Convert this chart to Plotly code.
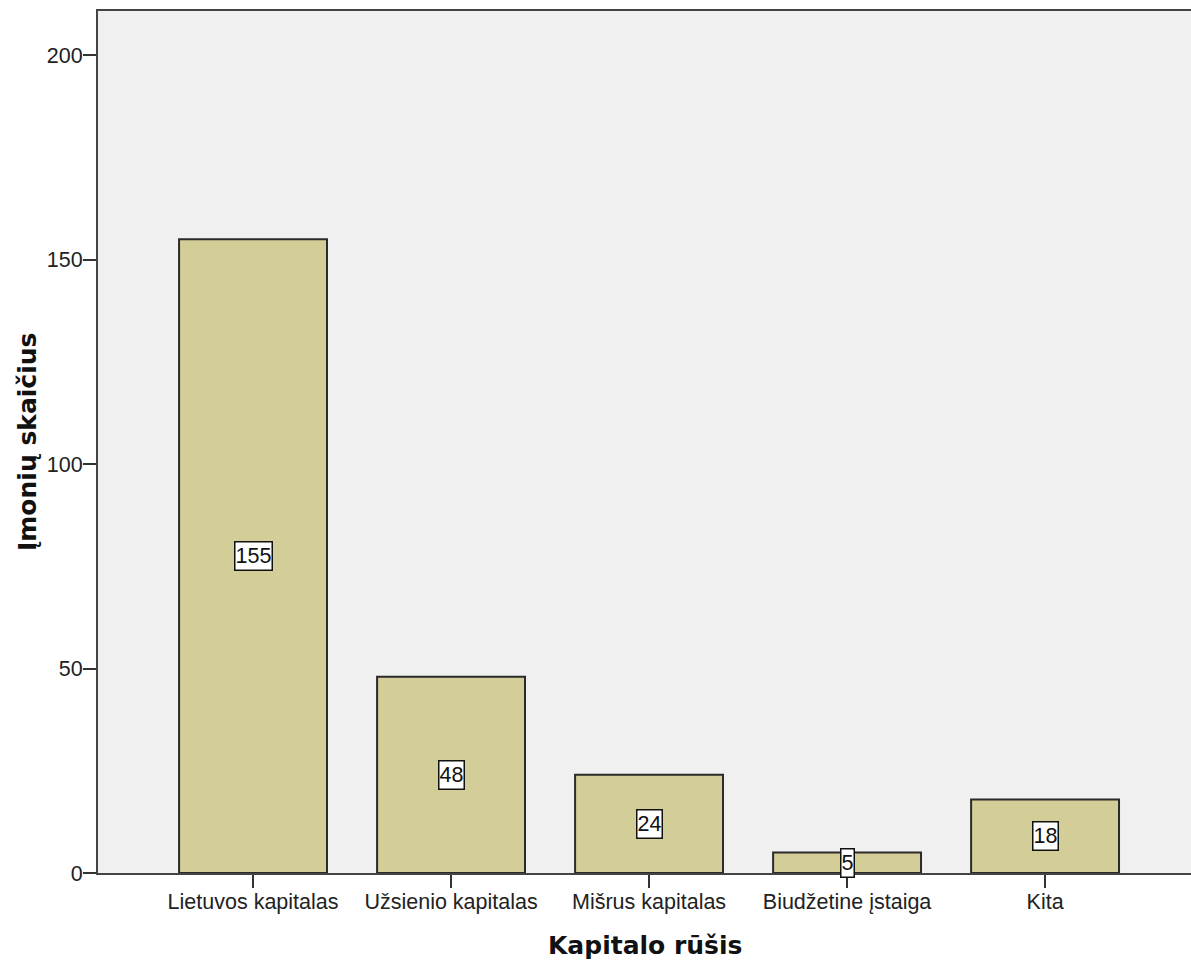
import plotly.graph_objects as go

# Capital type categories and number of companies in each
categories = ["Lietuvos kapitalas", "Užsienio kapitalas", "Mišrus kapitalas",
              "Biudžetine įstaiga", "Kita"]
counts = [155, 48, 24, 5, 18]
y_ticks = [0, 50, 100, 150, 200]

x_title = "Kapitalo rūšis"
y_title = "Įmonių skaičius"

W, H = 1191, 964
ML, MR, MT, MB = 98, 0, 11, 91
plot_w = W - ML - MR
plot_h = H - MT - MB

tick_font = dict(family="Liberation Sans, Arial, sans-serif", size=21.5, color="#222222")
title_font = dict(family="DejaVu Sans, sans-serif", size=25, color="#111111")

fig = go.Figure()
fig.add_trace(go.Bar(
    x=categories,
    y=counts,
    width=0.747,
    marker=dict(color="#D3CE97", line=dict(color="#2a2a2a", width=2)),
    hoverinfo="skip",
))

# value boxes in the middle of each bar
annotations = []
for c, v in zip(categories, counts):
    annotations.append(dict(
        x=c, y=v / 2, xref="x", yref="y", text=str(v), showarrow=False,
        font=dict(family="Liberation Sans, Arial, sans-serif", size=21.5, color="#111111"),
        bgcolor="white", bordercolor="#111111", borderwidth=1.5, borderpad=0,
        height=27,
        xanchor="center", yanchor="middle",
    ))

# axis titles
annotations.append(dict(
    x=(644.5 - ML) / plot_w, y=(873 - 946) / plot_h, xref="paper", yref="paper",
    text=f"<b>{x_title}</b>", showarrow=False, font=title_font,
    xanchor="center", yanchor="middle",
))
annotations.append(dict(
    x=(27 - ML) / plot_w, y=0.5, xref="paper", yref="paper",
    text=f"<b>{y_title}</b>", showarrow=False, font=title_font, textangle=-90,
    xanchor="center", yanchor="middle",
))

fig.update_layout(
    width=W, height=H,
    margin=dict(l=ML, r=MR, t=MT, b=MB, pad=0),
    paper_bgcolor="white",
    plot_bgcolor="#F0F0F0",
    showlegend=False,
    annotations=annotations,
    xaxis=dict(
        type="category",
        range=[-0.783, 4.737],
        showline=True, linecolor="#444444", linewidth=2, mirror=True,
        ticks="outside", ticklen=13, tickwidth=2, tickcolor="#333333",
        tickfont=tick_font, showgrid=False, zeroline=False,
        ticklabelstandoff=-5,
    ),
    yaxis=dict(
        range=[0, 210.8],
        tickvals=y_ticks,
        showline=True, linecolor="#444444", linewidth=2,
        ticks="outside", ticklen=13, tickwidth=2, tickcolor="#333333",
        tickfont=tick_font, showgrid=False, zeroline=False,
        ticklabelstandoff=-4,
    ),
)

fig.write_html("out.html")
